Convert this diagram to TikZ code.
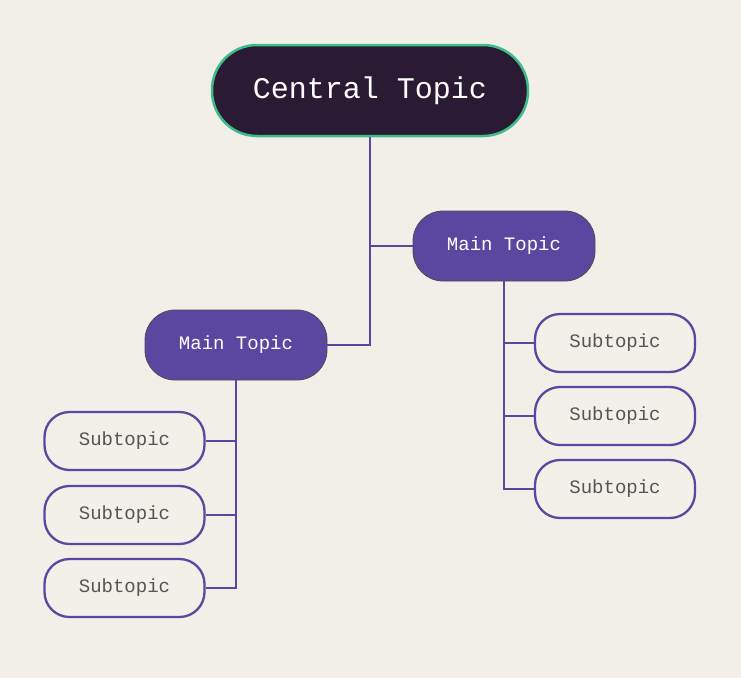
\documentclass[tikz,border=0pt]{standalone}
\usepackage{fontspec}
\setmonofont{Liberation Mono}
\definecolor{bg}{HTML}{F2EFE9}
\definecolor{ctr}{HTML}{2A1A33}
\definecolor{grn}{HTML}{3DBB88}
\definecolor{pur}{HTML}{5B47A0}
\definecolor{subfill}{HTML}{F3F0EA}
\definecolor{subtxt}{HTML}{555555}
\tikzset{
  central/.style={draw=grn, line width=2.5pt, fill=ctr, text=white, rounded corners=45pt, minimum width=316pt, minimum height=91pt, font=\ttfamily\fontsize{30}{32}\selectfont, inner sep=0pt},
  maintopic/.style={draw=black!70, line width=0.8pt, fill=pur, text=white, rounded corners=30pt, minimum width=182pt, minimum height=70pt, font=\ttfamily\fontsize{19}{22}\selectfont, inner sep=0pt},
  subtopic/.style={draw=pur, line width=2.3pt, fill=subfill, text=subtxt, rounded corners=25pt, minimum width=160pt, minimum height=58pt, font=\ttfamily\fontsize{19}{22}\selectfont, inner sep=0pt},
  link/.style={draw=pur, line width=2.3pt}
}
\begin{document}
\begin{tikzpicture}[x=1pt,y=-1pt]
\fill[bg] (0,0) rectangle (741,678);
\useasboundingbox (0,0) rectangle (741,678);
\node[central] (c) at (370,90.5) {Central Topic};
\node[maintopic] (mr) at (504,246) {Main Topic};
\node[maintopic] (ml) at (236,345) {Main Topic};
\node[subtopic] (r1) at (615,343) {Subtopic};
\node[subtopic] (r2) at (615,416) {Subtopic};
\node[subtopic] (r3) at (615,489) {Subtopic};
\node[subtopic] (l1) at (124.5,441) {Subtopic};
\node[subtopic] (l2) at (124.5,515) {Subtopic};
\node[subtopic] (l3) at (124.5,588) {Subtopic};
\coordinate (cj) at (370,246);
\draw[link] (c.south) |- (ml.east);
\draw[link] (cj) -- (mr.west);
\draw[link] (ml.south) |- (l3.east);
\draw[link] (l1.east) -| (ml.south);
\draw[link] (l2.east) -| (ml.south);
\draw[link] (mr.south) |- (r3.west);
\draw[link] (r1.west) -| (mr.south);
\draw[link] (r2.west) -| (mr.south);
\end{tikzpicture}
\end{document}
